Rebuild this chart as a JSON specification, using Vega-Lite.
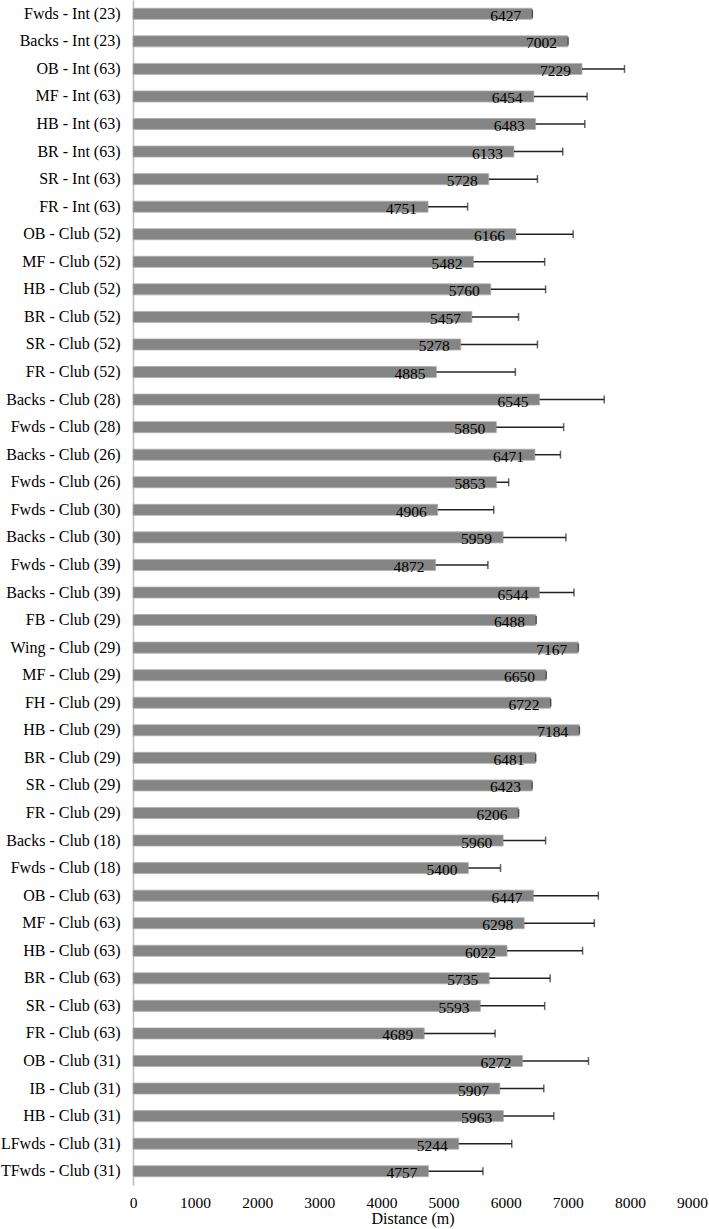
{
  "$schema": "https://vega.github.io/schema/vega-lite/v6.json",
  "autosize": "none",
  "width": 559,
  "height": 1185,
  "padding": {"left": 133, "top": 0, "right": 17, "bottom": 44},
  "background": "white",
  "config": {
    "view": {"stroke": null},
    "font": "Liberation Serif",
    "axis": {"labelFont": "Liberation Serif", "titleFont": "Liberation Serif", "labelColor": "black", "titleColor": "black"}
  },
  "data": {"values": [
    {"group": "Fwds - Int (23)", "mean": 6427, "hi": 6430},
    {"group": "Backs - Int (23)", "mean": 7002, "hi": 7005},
    {"group": "OB - Int (63)", "mean": 7229, "hi": 7913},
    {"group": "MF - Int (63)", "mean": 6454, "hi": 7311},
    {"group": "HB - Int (63)", "mean": 6483, "hi": 7274},
    {"group": "BR - Int (63)", "mean": 6133, "hi": 6919},
    {"group": "SR - Int (63)", "mean": 5728, "hi": 6512},
    {"group": "FR - Int (63)", "mean": 4751, "hi": 5387},
    {"group": "OB - Club (52)", "mean": 6166, "hi": 7086},
    {"group": "MF - Club (52)", "mean": 5482, "hi": 6628},
    {"group": "HB - Club (52)", "mean": 5760, "hi": 6643},
    {"group": "BR - Club (52)", "mean": 5457, "hi": 6207},
    {"group": "SR - Club (52)", "mean": 5278, "hi": 6512},
    {"group": "FR - Club (52)", "mean": 4885, "hi": 6156},
    {"group": "Backs - Club (28)", "mean": 6545, "hi": 7587},
    {"group": "Fwds - Club (28)", "mean": 5850, "hi": 6933},
    {"group": "Backs - Club (26)", "mean": 6471, "hi": 6882},
    {"group": "Fwds - Club (26)", "mean": 5853, "hi": 6048},
    {"group": "Fwds - Club (30)", "mean": 4906, "hi": 5808},
    {"group": "Backs - Club (30)", "mean": 5959, "hi": 6970},
    {"group": "Fwds - Club (39)", "mean": 4872, "hi": 5714},
    {"group": "Backs - Club (39)", "mean": 6544, "hi": 7100},
    {"group": "FB - Club (29)", "mean": 6488, "hi": 6491},
    {"group": "Wing - Club (29)", "mean": 7167, "hi": 7170},
    {"group": "MF - Club (29)", "mean": 6650, "hi": 6653},
    {"group": "FH - Club (29)", "mean": 6722, "hi": 6725},
    {"group": "HB - Club (29)", "mean": 7184, "hi": 7187},
    {"group": "BR - Club (29)", "mean": 6481, "hi": 6484},
    {"group": "SR - Club (29)", "mean": 6423, "hi": 6426},
    {"group": "FR - Club (29)", "mean": 6206, "hi": 6209},
    {"group": "Backs - Club (18)", "mean": 5960, "hi": 6643},
    {"group": "Fwds - Club (18)", "mean": 5400, "hi": 5917},
    {"group": "OB - Club (63)", "mean": 6447, "hi": 7492},
    {"group": "MF - Club (63)", "mean": 6298, "hi": 7427},
    {"group": "HB - Club (63)", "mean": 6022, "hi": 7238},
    {"group": "BR - Club (63)", "mean": 5735, "hi": 6716},
    {"group": "SR - Club (63)", "mean": 5593, "hi": 6628},
    {"group": "FR - Club (63)", "mean": 4689, "hi": 5830},
    {"group": "OB - Club (31)", "mean": 6272, "hi": 7333},
    {"group": "IB - Club (31)", "mean": 5907, "hi": 6614},
    {"group": "HB - Club (31)", "mean": 5963, "hi": 6774},
    {"group": "LFwds - Club (31)", "mean": 5244, "hi": 6098},
    {"group": "TFwds - Club (31)", "mean": 4757, "hi": 5634}
  ]},
  "encoding": {
    "y": {
      "field": "group", "type": "nominal", "sort": null,
      "scale": {"paddingInner": 0.6, "paddingOuter": 0.3},
      "axis": {"title": null, "ticks": false, "labelPadding": 13, "labelFontSize": 16, "domainColor": "#bdbdbd", "domainWidth": 1.5, "grid": false, "labelLimit": 200}
    }
  },
  "layer": [
    {
      "mark": {"type": "bar", "color": "#858585", "stroke": "#b0b0b0", "strokeWidth": 0.8},
      "encoding": {
        "x": {
          "field": "mean", "type": "quantitative",
          "scale": {"domain": [0, 9000], "nice": false},
          "axis": {"values": [0,1000,2000,3000,4000,5000,6000,7000,8000,9000], "format": "d", "title": "Distance (m)", "titleFontSize": 16, "titleFontWeight": "normal", "titlePadding": 0, "labelFontSize": 15.5, "labelPadding": 10, "labelFlush": false, "ticks": false, "domain": false, "grid": false}
        }
      }
    },
    {
      "mark": {"type": "rule", "color": "#222222", "strokeWidth": 1.5},
      "encoding": {"x": {"field": "mean", "type": "quantitative"}, "x2": {"field": "hi"}}
    },
    {
      "mark": {"type": "tick", "color": "#222222", "thickness": 1.5, "size": 8, "orient": "vertical"},
      "encoding": {"x": {"field": "hi", "type": "quantitative"}}
    },
    {
      "mark": {"type": "text", "align": "right", "baseline": "middle", "dx": -11, "dy": 2, "fontSize": 15.5, "color": "black", "font": "Liberation Serif"},
      "encoding": {"x": {"field": "mean", "type": "quantitative"}, "text": {"field": "mean", "type": "quantitative", "format": "d"}}
    }
  ]
}
